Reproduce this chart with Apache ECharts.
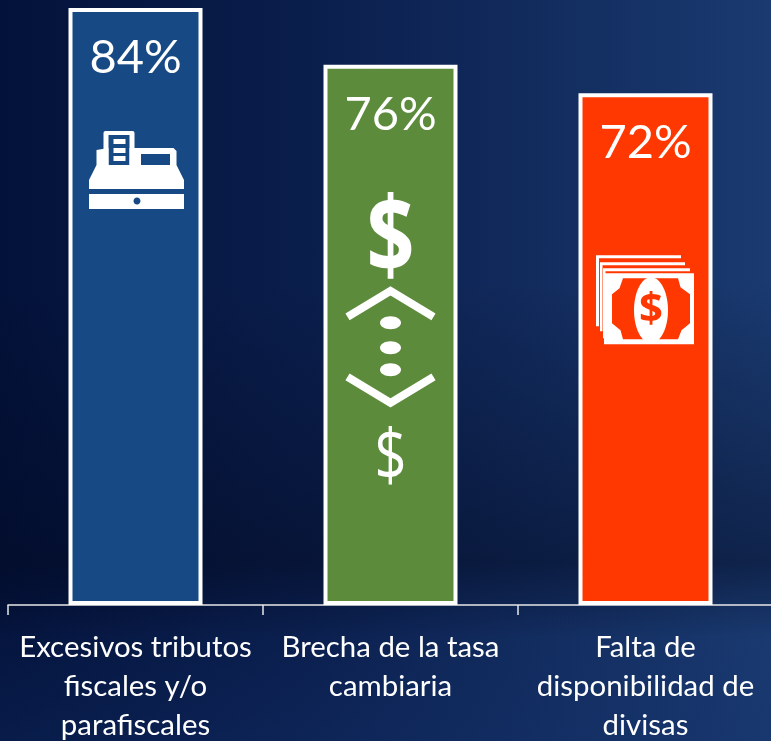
<!DOCTYPE html>
<html><head><meta charset="utf-8">
<script src="https://cdn.jsdelivr.net/npm/echarts@6/dist/echarts.min.js"></script>
<style>html,body{margin:0;padding:0;background:#0a1a3e}
#c{width:771px;height:741px;background:
linear-gradient(180deg,rgba(2,8,30,0) 38%,rgba(2,8,30,.45) 76%,rgba(2,8,30,0) 86%),
linear-gradient(180deg,rgba(20,50,110,0) 80%,rgba(20,50,110,.3) 100%),
linear-gradient(90deg,#03123a 0%,#0a1e4c 40%,#1a3a70 100%)}</style>
</head><body><div id="c"></div>
<script>
const categories = ['Excesivos tributos\nfiscales y/o\nparafiscales', 'Brecha de la tasa\ncambiaria', 'Falta de\ndisponibilidad de\ndivisas'];
const values = [84, 76, 72];
const barColors = ['#174a84', '#5d8b3c', '#ff3700'];
const FONT = 'Lato, Carlito, sans-serif';
const W = '#ffffff';

function rect(x, y, w, h, fill, r) { return {type:'rect', shape:{x, y, width:w, height:h, r:r||0}, style:{fill}}; }
function poly(points, fill) { return {type:'polygon', shape:{points}, style:{fill}}; }
function line(points, width) { return {type:'polyline', shape:{points}, style:{stroke:W, lineWidth:width, fill:null}}; }
function oval(cx, cy, rx, ry, fill) { return {type:'ellipse', shape:{cx, cy, rx, ry}, style:{fill}}; }
function txt(s, x, y, font, fill, sy) { return {type:'text', x, y, scaleY:sy||1, style:{text:s, x:0, y:0, font, fill, align:'center', verticalAlign:'middle'}}; }

const register = c => [
  rect(-32, 121, 31, 40, W, 2),
  rect(-27, 125, 21, 32, c),
  rect(-22, 129, 12, 5, W), rect(-22, 138, 12, 5, W), rect(-22, 146, 12, 5, W),
  poly([[-46.5,179],[-46.5,170],[-39,155],[-39,140],[-27,138],[-27,155],[-6,155],[-6,138],[38,138],[41,141],[41,155],[48.5,170],[48.5,179]], W),
  rect(5.5, 144, 29, 11, c),
  rect(-46.5, 184, 95, 15, W),
  oval(1.5, 191, 3.5, 3.5, c)
];
const spread = c => [
  txt('$', 0, 176, '700 84px "Open Sans", sans-serif', W, 1.27),
  line([[-43,250],[0,224],[43,250]], 8),
  oval(0, 256, 10.5, 6.5, W), oval(0, 281, 10.5, 6.5, W), oval(0, 303, 10.5, 6.5, W),
  line([[-43,310],[0,336],[43,310]], 8),
  txt('$', 0, 393, '400 56px "Open Sans", sans-serif', W, 1.27)
];
const money = c => [
  rect(-49.5, 160, 85, 71, W), rect(-46.5, 163, 87, 73, c),
  rect(-45.5, 167, 85, 69, W), rect(-43, 170, 87, 73, c),
  rect(-42.5, 173, 87, 70, W), rect(-40, 176, 90, 73, c),
  rect(-41.5, 178, 90, 71, W),
  poly([[-22.5,183],[5,183],[5,244],[-22.5,244],[-25,235],[-33.5,228],[-33.5,199],[-26,193]], c),
  poly([[5,183],[32.5,183],[35,192],[44.5,199],[44.5,228],[36,235],[32.5,244],[5,244]], c),
  oval(5.5, 215, 17, 33, W),
  txt('$', 5.5, 215, '700 42px "Open Sans", sans-serif', c)
];
const icons = [register, spread, money];

const chart = echarts.init(document.getElementById('c'), null, {renderer:'canvas'});
chart.setOption({
  animation: false,
  backgroundColor: 'transparent',
  grid: {left:8, right:-2, top:8, height:597, outerBoundsMode:'none', containLabel:false},
  xAxis: {
    type:'category', data:categories,
    axisLine:{lineStyle:{color:'#e8e8e8', width:1.5}},
    axisTick:{show:true, length:10, alignWithLabel:false, lineStyle:{color:'#e8e8e8', width:1.5}},
    axisLabel:{color:W, fontFamily:FONT, fontSize:29.4, lineHeight:39, margin:23, interval:0}
  },
  yAxis: {type:'value', min:0, max:84, show:false, splitLine:{show:false}},
  series: [
    {
      type:'bar', barWidth:134, z:2,
      data: values.map((v,i)=>({value:v, itemStyle:{color:barColors[i]}})),
      itemStyle:{borderColor:W, borderWidth:4},
      label:{show:true, position:'insideTop', distance:26, color:W, fontFamily:FONT, fontSize:47,
             formatter:p=>p.value+'%'}
    },
    {
      type:'custom', z:3, silent:true,
      data: values.map((v,i)=>[i,v]),
      encode:{x:0,y:1},
      renderItem:(params, api)=>{
        const i = api.value(0), p = api.coord([i, api.value(1)]);
        return {type:'group', x:p[0], y:p[1]+2, children:icons[i](barColors[i])};
      }
    }
  ]
});
</script></body></html>
